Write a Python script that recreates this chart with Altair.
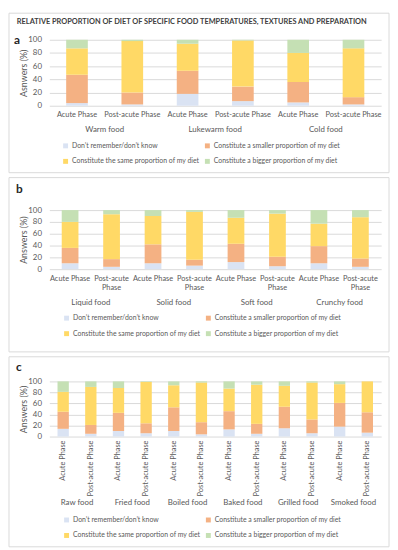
import altair as alt
import pandas as pd

TITLE = "RELATIVE PROPORTION OF DIET OF SPECIFIC FOOD TEMPERATURES, TEXTURES AND PREPARATION"
RESPONSES = [
    "Don’t remember/don’t know",
    "Constitute a smaller proportion of my diet",
    "Constitute the same proportion of my diet",
    "Constitute a bigger proportion of my diet",
]
COLORS = ["#DAE3F3", "#F4B183", "#FFD966", "#C5E0B4"]
PHASES = ["Acute Phase", "Post-acute Phase"]

# Panel a (values per food x phase: Acute, Post-acute)
FOODS_A = ["Warm food", "Lukewarm food", "Cold food"]
A_DONT = [4, 2, 18, 7, 5, 2]
A_SMALLER = [43, 18, 35, 22, 31, 11]
A_SAME = [40, 78, 41, 70, 44, 74]
A_BIGGER = [13, 2, 6, 1, 20, 13]

# Panel b
FOODS_B = ["Liquid food", "Solid food", "Soft food", "Crunchy food"]
B_DONT = [10, 4, 10, 6, 12, 5, 10, 4]
B_SMALLER = [26, 13, 32, 10, 31, 16, 29, 14]
B_SAME = [44, 76, 48, 81, 44, 73, 38, 70]
B_BIGGER = [20, 7, 10, 3, 13, 6, 23, 12]

# Panel c
FOODS_C = ["Raw food", "Fried food", "Boiled food", "Baked food", "Grilled food", "Smoked food"]
C_DONT = [14, 5, 10, 6, 10, 4, 13, 5, 15, 6, 18, 7]
C_SMALLER = [31, 16, 33, 18, 43, 22, 33, 18, 39, 25, 43, 37]
C_SAME = [36, 69, 45, 75, 40, 72, 41, 71, 38, 67, 34, 56]
C_BIGGER = [19, 10, 12, 1, 7, 2, 13, 6, 8, 2, 5, 0]

Y_TICKS = [0, 20, 40, 60, 80, 100]

GRID = "#D9D9D9"
TXT = "#595959"
FONT = "Lato"
W = 337


def long_table(foods, series):
    rows = []
    for r_i, (resp, vals) in enumerate(zip(RESPONSES, series)):
        k = 0
        for f in foods:
            for p in PHASES:
                rows.append({"food": f, "phase": p, "response": resp,
                             "order": r_i, "value": vals[k]})
                k += 1
    return pd.DataFrame(rows)


def panel(foods, series, letter, ytitle, H, bw, box, letter_pos, phase_style,
          food_y, tick_size, legend_xy, phase_labels, extra_title=False):
    df = long_table(foods, series)
    xs = alt.Scale(paddingInner=0, paddingOuter=0)
    xo = alt.Scale(paddingInner=0, paddingOuter=0)

    bars = alt.Chart(df).mark_bar(width=bw).encode(
        x=alt.X("food:N", sort=foods, scale=xs,
                axis=alt.Axis(title=None, labels=False, domainColor=GRID,
                              tickColor=GRID, tickBand="extent",
                              tickSize=tick_size, grid=False)),
        xOffset=alt.XOffset("phase:N", sort=PHASES, scale=xo),
        y=alt.Y("value:Q", stack="zero",
                scale=alt.Scale(domain=[0, 100]),
                axis=alt.Axis(values=Y_TICKS, title=ytitle, domain=False,
                              ticks=False, gridColor=GRID, labelColor=TXT,
                              labelFontSize=8, labelPadding=8,
                              titleColor=TXT, titleFontSize=9,
                              titleFontWeight="normal",
                              titleX=-26, titleY=H / 2,
                              titleBaseline="middle", titleAlign="center",
                              titleAngle=270)),
        color=alt.Color("response:N", sort=RESPONSES,
                        scale=alt.Scale(domain=RESPONSES, range=COLORS),
                        legend=alt.Legend(orient="none", legendX=legend_xy[0],
                                          legendY=legend_xy[1], columns=2,
                                          direction="horizontal",
                                          title=None, symbolType="square",
                                          symbolSize=25, symbolStrokeWidth=0,
                                          labelFontSize=7.0, labelColor=TXT,
                                          labelOffset=3, rowPadding=8,
                                          columnPadding=4, labelLimit=300)),
        order=alt.Order("order:Q", sort="ascending"),
    )

    pdf = pd.DataFrame([{"food": f, "phase": p, "label": phase_labels[i]}
                        for f in foods for i, p in enumerate(PHASES)])
    phase_txt = alt.Chart(pdf).mark_text(color=TXT, fontSize=7.5, lineBreak="|",
                                         **phase_style["mark"]).encode(
        x=alt.X("food:N", sort=foods, scale=xs, axis=None),
        xOffset=alt.XOffset("phase:N", sort=PHASES, scale=xo),
        y=alt.value(phase_style["y"]),
        text="label:N",
    )

    fdf = pd.DataFrame({"food": foods})
    food_txt = alt.Chart(fdf).mark_text(color=TXT, fontSize=8,
                                        baseline="middle").encode(
        x=alt.X("food:N", sort=foods, scale=xs, axis=None),
        y=alt.value(food_y),
        text="food:N",
    )

    one = pd.DataFrame({"t": [letter]})
    frame = alt.Chart(one).mark_rect(fillOpacity=0, stroke=GRID,
                                     strokeWidth=1).encode(
        x=alt.value(box[0]), x2=alt.value(box[1]),
        y=alt.value(box[2]), y2=alt.value(box[3]),
    )
    letter_txt = alt.Chart(one).mark_text(fontSize=12, fontWeight="bold",
                                          color="#262626", align="left",
                                          baseline="middle").encode(
        x=alt.value(letter_pos[0]), y=alt.value(letter_pos[1]), text="t:N")

    layers = [frame, bars, phase_txt, food_txt, letter_txt]
    if extra_title:
        tdf = pd.DataFrame({"t": [TITLE]})
        layers.append(alt.Chart(tdf).mark_text(
            fontSize=7.5, fontWeight="bold", color="#404040", align="left",
            baseline="middle").encode(x=alt.value(-33), y=alt.value(-18),
                                      text="t:N"))
    return alt.layer(*layers).resolve_scale(color="independent").properties(
        width=W, height=H)


pa = panel(FOODS_A, [A_DONT, A_SMALLER, A_SAME, A_BIGGER], "a", "Asnwers (%)",
           H=67, bw=22, box=(-41, 345, -27, 135), letter_pos=(-36, 0),
           phase_style={"mark": {"baseline": "middle"}, "y": 76},
           food_y=92, tick_size=29, legend_xy=(13, 104),
           phase_labels=["Acute Phase", "Post-acute Phase"], extra_title=True)

pb = panel(FOODS_B, [B_DONT, B_SMALLER, B_SAME, B_BIGGER], "b", "Answers (%)",
           H=60, bw=17, box=(-41, 345, -33, 144), letter_pos=(-34, -21),
           phase_style={"mark": {"baseline": "top"}, "y": 66},
           food_y=94, tick_size=38, legend_xy=(14, 106),
           phase_labels=["Acute Phase", "Post-acute|Phase"])

pc = panel(FOODS_C, [C_DONT, C_SMALLER, C_SAME, C_BIGGER], "c", "Answers (%)",
           H=56, bw=11.5, box=(-41, 345, -25, 168), letter_pos=(-34, -15),
           phase_style={"mark": {"angle": 270, "align": "right",
                                 "baseline": "middle"}, "y": 60},
           food_y=124, tick_size=74, legend_xy=(14, 137),
           phase_labels=["Acute Phase", "Post-acute Phase"])

chart = alt.vconcat(pa, pb, pc, spacing=3).resolve_scale(
    color="independent", xOffset="independent").resolve_legend(
    color="independent").properties(
    padding={"left": 0, "top": 0, "right": 0, "bottom": 0}
).configure(font=FONT).configure_view(stroke=None)

chart.save("out.html", embed_options={"renderer": "svg", "actions": False})
